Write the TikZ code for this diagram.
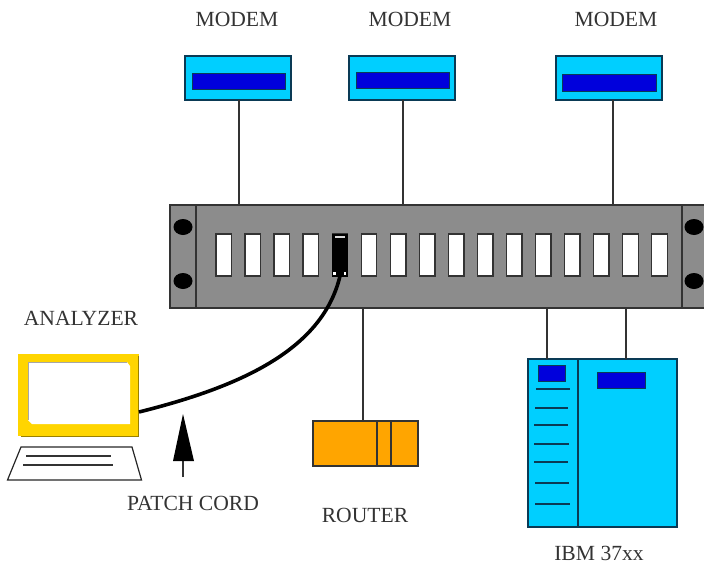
\documentclass[tikz,border=0pt]{standalone}
\usepackage{fontspec}
\setmainfont{Liberation Serif}
\definecolor{cy}{HTML}{00CFFF}
\definecolor{bl}{HTML}{0000DC}
\definecolor{edge}{HTML}{0A3A55}
\definecolor{pan}{HTML}{8C8C8C}
\definecolor{yel}{HTML}{FFD500}
\definecolor{org}{HTML}{FFA500}
\definecolor{ln}{HTML}{333333}
\tikzset{
 x=1pt,y=-1pt,
 box/.style={draw=#1,rectangle,inner sep=0pt,outer sep=0pt,anchor=north west},
 modem/.style={box=edge,fill=cy,line width=1.4pt,minimum width=106pt,minimum height=44pt},
 bar/.style={box=edge,fill=bl,line width=.7pt},
 slot/.style={box=ln,fill=white,line width=1.4pt,minimum width=15.5pt,minimum height=42pt},
 hole/.style={fill=black,ellipse,inner sep=0pt,minimum width=19pt,minimum height=16pt},
 lbl/.style={font=\fontsize{21.6}{23}\selectfont,text=black!80,inner sep=0pt},
 conn/.style={draw=ln,line width=1.3pt},
 tick/.style={draw=edge,line width=1.3pt},
}
\usetikzlibrary{shapes.geometric}
\begin{document}
\begin{tikzpicture}
\useasboundingbox (0,0) rectangle (704,563);
\clip (0,0) rectangle (704,563);
% labels
\node[lbl] (lm1) at (237,19) {MODEM};
\node[lbl] (lm2) at (410,19) {MODEM};
\node[lbl] (lm3) at (616,19) {MODEM};
\node[lbl] (lan) at (81,318) {ANALYZER};
\node[lbl] (lpc) at (193,503) {PATCH CORD};
\node[lbl] (lro) at (365,515) {ROUTER};
\node[lbl] (lib) at (599,553) {IBM 37xx};
% panel
\node[box=ln,fill=pan,line width=1.3pt,minimum width=540pt,minimum height=103pt] (panel) at (170,205) {};
\draw[conn] (196,205) -- (196,308);
\draw[conn] (682,205) -- (682,308);
\node[hole] (h1) at (183,227) {};
\node[hole] (h2) at (183,281) {};
\node[hole] (h3) at (694,227) {};
\node[hole] (h4) at (694,281) {};
\foreach \i in {0,...,15}{
  \node[slot] (s\i) at ({216+29.05*\i},234) {};
}
% modems
\node[modem] (m1) at (185,56) {};
\node[bar,minimum width=93pt,minimum height=16pt] (b1) at (192,73) {};
\node[modem] (m2) at (349,56) {};
\node[bar,minimum width=93pt,minimum height=16pt] (b2) at (356,72) {};
\node[modem] (m3) at (556,56) {};
\node[bar,minimum width=94pt,minimum height=17pt] (b3) at (562,74) {};
\coordinate (m1a) at (239,100); \coordinate (p1a) at (239,205);
\coordinate (m2a) at (403,100); \coordinate (p2a) at (403,205);
\coordinate (m3a) at (613,100); \coordinate (p3a) at (613,205);
\draw[conn] (m1a) -- (p1a);
\draw[conn] (m2a) -- (p2a);
\draw[conn] (m3a) -- (p3a);
% router
\node[box=ln,fill=org,line width=1.3pt,minimum width=105pt,minimum height=45pt] (router) at (313,421) {};
\draw[conn] (377,421) -- (377,466);
\draw[conn] (391,421) -- (391,466);
\coordinate (p4a) at (363,308); \coordinate (r4a) at (363,421);
\draw[conn] (p4a) -- (r4a);
% IBM
\node[box=edge,fill=cy,line width=1.4pt,minimum width=149pt,minimum height=168pt] (ibm) at (528,359) {};
\draw[tick] (578,359) -- (578,527);
\node[bar,minimum width=27pt,minimum height=16pt] (ib1) at (538,365) {};
\node[bar,minimum width=48pt,minimum height=16pt] (ib2) at (597,372) {};
\draw[tick] (536,389) -- (570,389);
\draw[tick] (535,408) -- (568,408);
\draw[tick] (534,425) -- (568,425);
\draw[tick] (534,444) -- (569,444);
\draw[tick] (534,462) -- (568,462);
\draw[tick] (535,483) -- (569,483);
\draw[tick] (535,504) -- (570,504);
\coordinate (p5a) at (547,308); \coordinate (i5a) at (547,359);
\coordinate (p6a) at (626,308); \coordinate (i6a) at (626,359);
\draw[conn] (p5a) -- (i5a);
\draw[conn] (p6a) -- (i6a);
% analyzer
\node[box=yel,fill=yel,draw=none,minimum width=121pt,minimum height=82pt] (screen) at (18,354) {};
\fill[white] (29,362) -- (127,362) -- (130,366) -- (130,424) -- (32,424) -- (28,420) -- cycle;
\draw[black!35,line width=1pt] (28,420) -- (28,362) -- (127,362);
\draw[black!40!yel,line width=1pt] (21,436) -- (138,436) -- (138,356);
\coordinate (kbtl) at (21,447); \coordinate (kbtr) at (132,447);
\coordinate (kbbr) at (141.5,480); \coordinate (kbbl) at (7.5,480);
\draw[draw=black!85,line width=1.2pt] (kbtl) -- (kbtr) -- (kbbr) -- (kbbl) -- cycle;
\draw[draw=black!80,line width=1.1pt] (26,456) -- (111,456);
\draw[draw=black!80,line width=1.1pt] (23,465) -- (113,465);
% plug and cord
\node[box=black,fill=black,line width=.6pt,minimum width=15.5pt,minimum height=42pt] (plug) at (332,234) {};
\fill[white!85!black] (335,236) rectangle (345,237.5);
\fill[white] (333,272) rectangle (335.5,275);
\fill[white] (343.5,272) rectangle (346,275);
\coordinate (cordA) at (139,412);
\coordinate (cordB) at (340,276);
\draw[black,line width=3.6pt] (cordA) .. controls (235,388) and (322,352) .. (cordB);
% arrow
\coordinate (arT) at (183,414);
\coordinate (arB) at (183,477);
\draw[ln,line width=1.3pt] (arB) -- (183,460);
\fill[black] (arT) -- (194,461) -- (173,461) -- cycle;
\end{tikzpicture}
\end{document}
